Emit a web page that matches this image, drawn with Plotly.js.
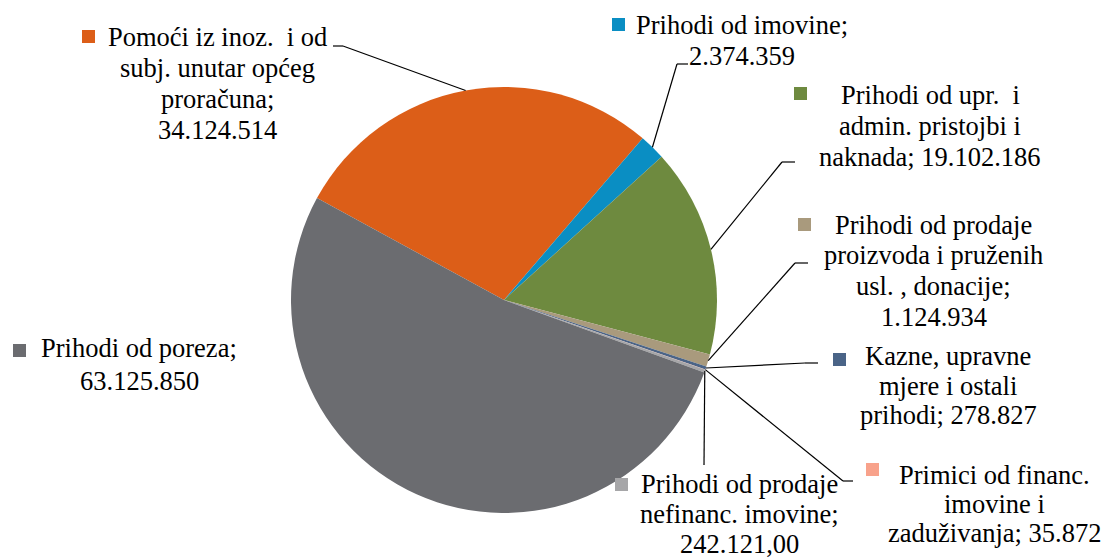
<!DOCTYPE html>
<html><head><meta charset="utf-8">
<script src="https://cdn.plot.ly/plotly-3.0.1.min.js"></script>
<style>html,body{margin:0;padding:0;background:#fff}#chart{width:1109px;height:558px}</style>
</head><body><div id="chart"></div>
<script>
// ---------------- data ----------------
const categories = [
  "Pomoći iz inoz.  i od subj. unutar općeg proračuna",
  "Prihodi od imovine",
  "Prihodi od upr.  i admin. pristojbi i naknada",
  "Prihodi od prodaje proizvoda i pruženih usl. , donacije",
  "Kazne, upravne mjere i ostali prihodi",
  "Primici od financ. imovine i zaduživanja",
  "Prihodi od prodaje nefinanc. imovine",
  "Prihodi od poreza"
];
const values = [34124514, 2374359, 19102186, 1124934, 278827, 35872, 242121.00, 63125850];
const valueDecimals = [0, 0, 0, 0, 0, 0, 2, 0];
const colors = ["#DC5E18", "#0A8EC3", "#6E8A3F", "#A99A7D", "#4A6487", "#F8A28B", "#A6A6A8", "#6B6C70"];
// how each data label wraps (category words per line) and whether the value sits on its own line
const nameLines = [
  ["Pomoći iz inoz.  i od", "subj. unutar općeg", "proračuna"],
  ["Prihodi od imovine"],
  ["Prihodi od upr.  i", "admin. pristojbi i", "naknada"],
  ["Prihodi od prodaje", "proizvoda i pruženih", "usl. , donacije"],
  ["Kazne, upravne", "mjere i ostali", "prihodi"],
  ["Primici od financ.", "imovine i", "zaduživanja"],
  ["Prihodi od prodaje", "nefinanc. imovine"],
  ["Prihodi od poreza"]
];
const valueOnOwnLine = [true, true, false, true, false, false, true, true];

// ---------------- layout ----------------
const W = 1109, H = 558;
const PIE = {cx: 504, cy: 300, r: 213, rotation: -61.4};
const FAMILY = "Liberation Serif";
const FSIZE = 26.5;
const KEY = 13;
// label block: text centre x, first baseline y, line gap, key top-left, leader [start, elbow]
const labelPos = [
  {cx: 217, y0: 46,  gap: 31,   key: [82, 30],   leader: [[333, 46], [343, 46]]},
  {cx: 742, y0: 34,  gap: 31,   key: [612, 18],  leader: [[688, 64], [677, 64]]},
  {cx: 930, y0: 104, gap: 31,   key: [794, 87],  leader: [[795, 162], [782, 162]]},
  {cx: 934, y0: 234, gap: 30.5, key: [798, 218], leader: [[808, 263], [795, 263]]},
  {cx: 948, y0: 365, gap: 29.5, key: [833, 353], leader: [[818, 363], [805, 363]]},
  {cx: 994, y0: 484, gap: 29,   key: [866, 463], leader: [[853, 481], [843, 481]]},
  {cx: 739, y0: 493, gap: 30,   key: [615, 478], leader: [[704, 465], [704, 465]]},
  {cx: 139, y0: 357, gap: 33,   key: [13, 344],  leader: null}
];

function fmt(v, d) {
  const parts = v.toFixed(d).split('.');
  const intPart = parts[0].replace(/\B(?=(\d{3})+(?!\d))/g, '.');
  return parts[1] ? intPart + ',' + parts[1] : intPart;
}
const px = x => x / W;
const py = y => 1 - y / H;
const keepSpaces = s => s.replace(/  /g, ' \u00A0');

const total = values.reduce((a, b) => a + b, 0);
const annotations = [];
const shapes = [];
let cum = 0;
values.forEach((v, i) => {
  // label lines
  const lines = nameLines[i].slice();
  const valTxt = fmt(v, valueDecimals[i]);
  if (valueOnOwnLine[i]) { lines[lines.length - 1] += ';'; lines.push(valTxt); }
  else { lines[lines.length - 1] += '; ' + valTxt; }
  const L = labelPos[i];
  lines.forEach((t, k) => {
    annotations.push({
      xref: 'paper', yref: 'paper', x: px(L.cx), y: py(L.y0 + k * L.gap - 9),
      xanchor: 'center', yanchor: 'middle', showarrow: false,
      text: keepSpaces(t), font: {family: FAMILY, size: FSIZE, color: '#000000'}
    });
  });
  // legend key
  shapes.push({type: 'rect', xref: 'paper', yref: 'paper',
    x0: px(L.key[0]), x1: px(L.key[0] + KEY), y0: py(L.key[1]), y1: py(L.key[1] + KEY),
    fillcolor: colors[i], line: {width: 0}});
  // leader line to the slice's mid angle on the rim
  const ang = (PIE.rotation + (cum + v / 2) / total * 360) * Math.PI / 180;
  const sx = PIE.cx + PIE.r * Math.sin(ang), sy = PIE.cy - PIE.r * Math.cos(ang);
  if (L.leader) {
    const [a, b] = L.leader;
    const seg = (x0, y0, x1, y1) => shapes.push({type: 'line', xref: 'paper', yref: 'paper',
      x0: px(x0), y0: py(y0), x1: px(x1), y1: py(y1), line: {color: '#000', width: 1.2}, layer: 'above'});
    if (a[0] !== b[0] || a[1] !== b[1]) seg(a[0], a[1], b[0], b[1]);
    seg(b[0], b[1], sx, sy);
  }
  cum += v;
});

const trace = {
  type: 'pie', labels: categories, values: values, sort: false, direction: 'clockwise',
  rotation: PIE.rotation, textinfo: 'none', hoverinfo: 'label+value+percent',
  marker: {colors: colors, line: {width: 0}}, showlegend: false,
  domain: {x: [px(PIE.cx - PIE.r), px(PIE.cx + PIE.r)], y: [py(PIE.cy + PIE.r), py(PIE.cy - PIE.r)]}
};
const layout = {
  width: W, height: H, margin: {l: 0, r: 0, t: 0, b: 0},
  paper_bgcolor: '#fff', plot_bgcolor: '#fff', showlegend: false,
  annotations: annotations, shapes: shapes,
  font: {family: FAMILY, size: FSIZE, color: '#000000'}
};
Plotly.newPlot('chart', [trace], layout, {displayModeBar: false, staticPlot: true});
</script></body></html>
